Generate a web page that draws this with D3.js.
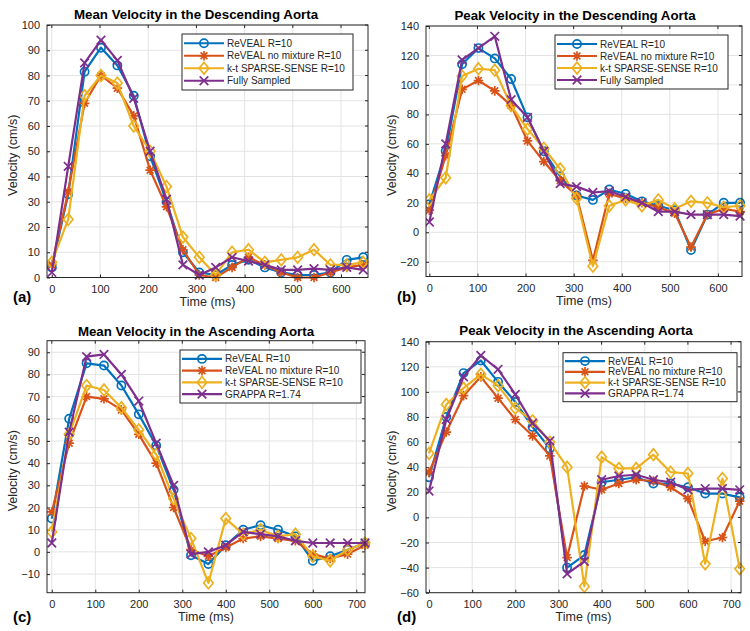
<!DOCTYPE html>
<html><head><meta charset="utf-8">
<script src="https://cdn.jsdelivr.net/npm/d3@7"></script>
<style>body{margin:0;background:#fff}svg{display:block}</style>
</head><body>
<svg id="chart" width="750" height="631"></svg>
<script>
// ---------------- DATA ----------------
const timesDesc = [0,34,68,102,136,170,204,238,272,306,340,374,408,442,476,510,544,578,612,646];
const timesAsc  = [0,40,80,120,160,200,240,280,320,360,400,440,480,520,560,600,640,680,720];

const seriesNamesDesc = ["ReVEAL R=10","ReVEAL no mixture R=10","k-t SPARSE-SENSE R=10","Fully Sampled"];
const seriesNamesAsc  = ["ReVEAL R=10","ReVEAL no mixture R=10","k-t SPARSE-SENSE R=10","GRAPPA R=1.74"];

// (a) Mean velocity, descending aorta
const meanDescReveal  = [4,33,81.5,91,84,72,48,30,10,2,1,5,7,4,2,1,1,2,7,8];
const meanDescNoMix   = [5,34,69,80,75,64,42.5,28,11,1,0,4,8,5,2,0,0,2,4,5];
const meanDescKt      = [6,23,72,80,77,60,50,36,16,8,1,10,11,6,7,8,11,5,5,6];
const meanDescFull    = [2,44,85,94,86,71,50,31,5,1,4,8,6.5,5,3,3,3.5,3,4,3];

// (b) Peak velocity, descending aorta
const peakDescReveal  = [19,55,114,125,118,104,78,55,38,25,22,29,26,21,18,15,-12,12,20,20];
const peakDescNoMix   = [15,52,97,103,96,86,62,48,35,25,-19,26,23,20,17,13,-10,12,16,14];
const peakDescKt      = [22,37,106,111,110,86,70,57,43,23,-23,18,22,18,22,16,21,20,17,18];
const peakDescFull    = [7,60,117,125,133,90,78,55,33,31,27,28,24,20,14,14,12,12,12,11];

// (c) Mean velocity, ascending aorta
const meanAscReveal   = [15,60,85,84,75,62,48,28,-1.5,-5.5,3,10,12,10,7,-4,-2,1,4];
const meanAscNoMix    = [18,49,70,69,64,53,40,20,1,-2,2,6,7,6,5,-1,-3,-1,3];
const meanAscKt       = [9,53,75,73,65,55,44,24,6,-14,15,8,10,7,8,-2,-4,1,4];
const meanAscGrappa   = [4,54,88,89,80,68,49,30,-1,0,3,9,8,7,5,4,4,4,4];

// (d) Peak velocity, ascending aorta
const peakAscReveal   = [32,80,115,125,108,92,72,55,-40,-30,28,30,32,27,27,24,19,19,16];
const peakAscNoMix    = [36,68,97,112,95,78,65,49,-32,25,22,27,30,29,24,15,-19,-16,13];
const peakAscKt       = [51,90,103,114,105,87,77,60,40,-55,48,39,39,50,36,35,-37,31,-41];
const peakAscGrappa   = [21,78,112,129,118,98,75,61,-45,-35,30,33,34,30,28,22,23,23,22];

const xTicksDesc = [0,100,200,300,400,500,600];
const xTicksAsc  = [0,100,200,300,400,500,600,700];
const yTicksA = [0,10,20,30,40,50,60,70,80,90,100];
const yTicksB = [-20,0,20,40,60,80,100,120,140];
const yTicksC = [-10,0,10,20,30,40,50,60,70,80,90];
const yTicksD = [-60,-40,-20,0,20,40,60,80,100,120,140];

const titles = ["Mean Velocity in the Descending Aorta","Peak Velocity in the Descending Aorta",
                "Mean Velocity in the Ascending Aorta","Peak Velocity in the Ascending Aorta"];
const panelLabels = ["(a)","(b)","(c)","(d)"];

// ---------------- STYLE / LAYOUT ----------------
const colors = ["#0072BD","#D95319","#EDB120","#7E2F8E"];
const markers = ["circle","asterisk","diamond","cross"];
const FONT = "'Liberation Sans', Arial, Helvetica, sans-serif";
const TXT = "#262626";

const panels = [
  {x0:47,x1:368,y0:25,y1:277.5,xDom:[-10,656],yDom:[0,100],xTicks:xTicksDesc,yTicks:yTicksA,
   times:timesDesc,data:[meanDescReveal,meanDescNoMix,meanDescKt,meanDescFull],names:seriesNamesDesc,
   titleX:196,titleY:18.5,labX:13,labY:302,leg:{x:182,y:34,w:171,h:56}},
  {x0:426,x1:742,y0:26,y1:276.5,xDom:[-7,650],yDom:[-30,140],xTicks:xTicksDesc,yTicks:yTicksB,
   times:timesDesc,data:[peakDescReveal,peakDescNoMix,peakDescKt,peakDescFull],names:seriesNamesDesc,
   titleX:575,titleY:19.5,labX:397,labY:302,leg:{x:555,y:35,w:173,h:54}},
  {x0:47,x1:365,y0:340.7,y1:592.7,xDom:[-11,720],yDom:[-18.4,95.2],xTicks:xTicksAsc,yTicks:yTicksC,
   times:timesAsc,data:[meanAscReveal,meanAscNoMix,meanAscKt,meanAscGrappa],names:seriesNamesAsc,
   titleX:196,titleY:336,labX:13,labY:622,leg:{x:180,y:350,w:181,h:53}},
  {x0:426,x1:741,y0:341.7,y1:592.7,xDom:[-7,723],yDom:[-60,140],xTicks:xTicksAsc,yTicks:yTicksD,
   times:timesAsc,data:[peakAscReveal,peakAscNoMix,peakAscKt,peakAscGrappa],names:seriesNamesAsc,
   titleX:576,titleY:335,labX:397,labY:622,leg:{x:563,y:352.7,w:174,h:49}}
];

const svg = d3.select("#chart");

function drawMarker(g, type, color, cx, cy){
  const m = g.append("g").attr("transform",`translate(${cx},${cy})`)
    .attr("fill","none").attr("stroke",color).attr("stroke-width",1.7);
  if(type==="circle"){
    m.append("circle").attr("r",4.1).attr("fill","none");
  } else if(type==="asterisk"){
    const s=4.8, d=3.4;
    m.append("path").attr("d",`M${-s},0H${s}M0,${-s}V${s}M${-d},${-d}L${d},${d}M${-d},${d}L${d},${-d}`);
  } else if(type==="diamond"){
    m.append("path").attr("d","M0,-5.8L4.8,0L0,5.8L-4.8,0Z");
  } else {
    const s=4.3;
    m.append("path").attr("d",`M${-s},${-s}L${s},${s}M${-s},${s}L${s},${-s}`);
  }
}

panels.forEach((p,pi)=>{
  const x = d3.scaleLinear().domain(p.xDom).range([p.x0,p.x1]);
  const y = d3.scaleLinear().domain(p.yDom).range([p.y1,p.y0]);
  const g = svg.append("g");

  // grid
  g.append("g").selectAll("line").data(p.xTicks).join("line")
    .attr("x1",d=>x(d)).attr("x2",d=>x(d)).attr("y1",p.y0).attr("y2",p.y1)
    .attr("stroke","#e3e3e3").attr("stroke-width",1);
  g.append("g").selectAll("line").data(p.yTicks).join("line")
    .attr("x1",p.x0).attr("x2",p.x1).attr("y1",d=>y(d)).attr("y2",d=>y(d))
    .attr("stroke","#e3e3e3").attr("stroke-width",1);

  // axes via d3 axis (inward ticks)
  const xAx = d3.axisBottom(x).tickValues(p.xTicks).tickSizeInner(-3).tickSizeOuter(0).tickPadding(8);
  const yAx = d3.axisLeft(y).tickValues(p.yTicks).tickSizeInner(-3).tickSizeOuter(0).tickPadding(7);
  const gx = g.append("g").attr("transform",`translate(0,${p.y1})`).call(xAx);
  const gy = g.append("g").attr("transform",`translate(${p.x0},0)`).call(yAx);
  [gx,gy].forEach(a=>{
    a.select(".domain").remove();
    a.selectAll(".tick line").attr("stroke",TXT);
    a.selectAll(".tick text").attr("fill",TXT).style("font-family",FONT).style("font-size","11px");
  });
  // mirrored ticks top/right
  g.append("g").selectAll("line").data(p.xTicks).join("line")
    .attr("x1",d=>x(d)).attr("x2",d=>x(d)).attr("y1",p.y0).attr("y2",p.y0+3).attr("stroke",TXT);
  g.append("g").selectAll("line").data(p.yTicks).join("line")
    .attr("x1",p.x1).attr("x2",p.x1-3).attr("y1",d=>y(d)).attr("y2",d=>y(d)).attr("stroke",TXT);

  // clip for data
  const cid = "clip"+pi;
  svg.append("clipPath").attr("id",cid).append("rect")
    .attr("x",p.x0).attr("y",p.y0-7).attr("width",p.x1-p.x0+7).attr("height",p.y1-p.y0+14);

  const dg = g.append("g").attr("clip-path",`url(#${cid})`);
  const line = d3.line().x(d=>x(d[0])).y(d=>y(d[1]));
  p.data.forEach((vals,si)=>{
    const pts = p.times.map((t,i)=>[t,vals[i]]);
    dg.append("path").datum(pts).attr("d",line).attr("fill","none")
      .attr("stroke",colors[si]).attr("stroke-width",2.2).attr("stroke-linejoin","round");
    pts.forEach(pt=>drawMarker(dg,markers[si],colors[si],x(pt[0]),y(pt[1])));
  });

  // box
  g.append("rect").attr("x",p.x0).attr("y",p.y0).attr("width",p.x1-p.x0).attr("height",p.y1-p.y0)
    .attr("fill","none").attr("stroke",TXT).attr("stroke-width",1);

  // legend
  const L = p.leg;
  const lg = g.append("g");
  lg.append("rect").attr("x",L.x).attr("y",L.y).attr("width",L.w).attr("height",L.h)
    .attr("fill","#fff").attr("stroke",TXT).attr("stroke-width",1);
  const rowH = (L.h-6)/4;
  p.names.forEach((nm,si)=>{
    const cy = L.y+3+rowH*(si+0.5);
    lg.append("line").attr("x1",L.x+2).attr("x2",L.x+42).attr("y1",cy).attr("y2",cy)
      .attr("stroke",colors[si]).attr("stroke-width",2.2);
    drawMarker(lg,markers[si],colors[si],L.x+22,cy);
    lg.append("text").attr("x",L.x+45).attr("y",cy).attr("dy","0.35em")
      .attr("fill",TXT).style("font-family",FONT).style("font-size","10px").text(nm);
  });

  // title
  g.append("text").attr("x",p.titleX).attr("y",p.titleY).attr("text-anchor","middle")
    .attr("fill","#000").style("font-family",FONT).style("font-weight","bold").style("font-size","13.3px")
    .text(titles[pi]);
  // axis labels
  g.append("text").attr("x",(p.x0+p.x1)/2).attr("y",p.y1+28).attr("text-anchor","middle")
    .attr("fill",TXT).style("font-family",FONT).style("font-size","12.5px").text("Time (ms)");
  g.append("text").attr("transform",`translate(${p.x0-34},${(p.y0+p.y1)/2+4}) rotate(-90)`)
    .attr("text-anchor","middle").attr("dy","0.35em")
    .attr("fill",TXT).style("font-family",FONT).style("font-size","12.5px").text("Velocity (cm/s)");
  // panel label
  g.append("text").attr("x",p.labX).attr("y",p.labY)
    .attr("fill","#000").style("font-family",FONT).style("font-weight","bold").style("font-size","15px")
    .text(panelLabels[pi]);
});
</script>
</body></html>
